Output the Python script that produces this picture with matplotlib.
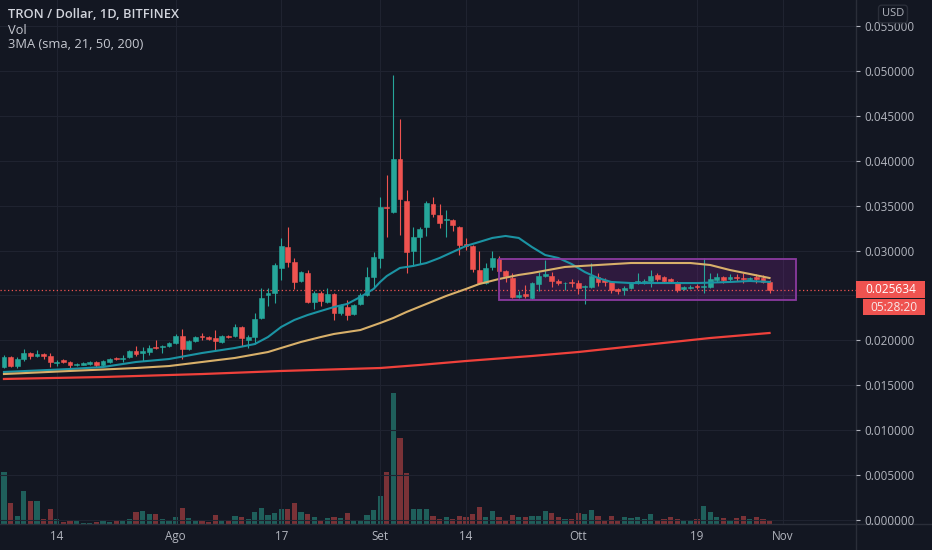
import numpy as np
import matplotlib
matplotlib.use('Agg')
import matplotlib.pyplot as plt
import matplotlib.transforms as mtransforms
from matplotlib.patches import Rectangle
from matplotlib.lines import Line2D

plt.rcParams['font.family'] = ['Open Sans', 'DejaVu Sans']

BG = '#131722'
GRID = '#1f2330'
TXT = '#b2b5be'
UP = '#26a69a'
DOWN = '#ef5350'
UP_VOL = '#1f5f5b'
DOWN_VOL = '#7a3237'

# daily candles TRX/USD, first candle = 2020-07-06
start_date = np.datetime64('2020-07-06')

opens = [0.01703, 0.01815, 0.01714, 0.01792, 0.01859, 0.01826, 0.01848, 0.01826, 0.01753, 0.01781,
         0.01759, 0.01726, 0.01731, 0.01737, 0.01759, 0.01726, 0.01759, 0.01804, 0.01792, 0.01815,
         0.01881, 0.01859, 0.01870, 0.01926, 0.01926, 0.01937, 0.01971, 0.02048, 0.01904, 0.01993,
         0.02048, 0.02037, 0.02026, 0.01982, 0.02048, 0.02048, 0.02149, 0.02004, 0.02037, 0.02249,
         0.02505, 0.02527, 0.02806, 0.03039, 0.02872, 0.02661, 0.02750, 0.02427, 0.02527, 0.02427,
         0.02516, 0.02305, 0.02371, 0.02293, 0.02405, 0.02505, 0.02705, 0.02917, 0.03485, 0.03429,
         0.04019, 0.03552, 0.02995, 0.03151, 0.03262, 0.03518, 0.03396, 0.03340, 0.03340, 0.03262,
         0.03073, 0.03051, 0.02783, 0.02638, 0.02817, 0.02906, 0.02772, 0.02694, 0.02483, 0.02516,
         0.02472, 0.02627, 0.02716, 0.02716, 0.02661, 0.02633, 0.02650, 0.02638, 0.02589, 0.02594,
         0.02705, 0.02672, 0.02650, 0.02572, 0.02561, 0.02583, 0.02638, 0.02650, 0.02661, 0.02728,
         0.02705, 0.02683, 0.02650, 0.02572, 0.02583, 0.02605, 0.02589, 0.02594, 0.02672, 0.02705,
         0.02683, 0.02705, 0.02694, 0.02683, 0.02705, 0.02694, 0.02650]

highs = [0.01837, 0.01826, 0.01815, 0.01904, 0.01870, 0.01893, 0.01859, 0.01859, 0.01781, 0.01792,
         0.01770, 0.01748, 0.01759, 0.01770, 0.01770, 0.01781, 0.01804, 0.01815, 0.01837, 0.01893,
         0.01937, 0.01926, 0.01948, 0.02004, 0.01948, 0.01982, 0.02071, 0.02126, 0.02004, 0.02048,
         0.02082, 0.02048, 0.02115, 0.02060, 0.02060, 0.02182, 0.02160, 0.02060, 0.02305, 0.02583,
         0.02583, 0.02861, 0.03140, 0.03262, 0.02917, 0.02772, 0.02783, 0.02549, 0.02549, 0.02583,
         0.02527, 0.02405, 0.02449, 0.02405, 0.02527, 0.02817, 0.02984, 0.03596, 0.03841, 0.04954,
         0.04464, 0.03674, 0.03262, 0.03262, 0.03552, 0.03596, 0.03518, 0.03451, 0.03351, 0.03273,
         0.03140, 0.03062, 0.02995, 0.02861, 0.02995, 0.02939, 0.02783, 0.02750, 0.02549, 0.02616,
         0.02650, 0.02761, 0.02895, 0.02761, 0.02683, 0.02650, 0.02683, 0.02672, 0.02616, 0.02861,
         0.02750, 0.02694, 0.02661, 0.02583, 0.02605, 0.02650, 0.02750, 0.02683, 0.02783, 0.02750,
         0.02716, 0.02694, 0.02661, 0.02605, 0.02616, 0.02627, 0.02917, 0.02750, 0.02750, 0.02716,
         0.02739, 0.02739, 0.02750, 0.02705, 0.02739, 0.02728, 0.02672]

lows = [0.01692, 0.01703, 0.01692, 0.01770, 0.01792, 0.01815, 0.01792, 0.01703, 0.01714, 0.01748,
        0.01692, 0.01714, 0.01726, 0.01726, 0.01703, 0.01714, 0.01748, 0.01781, 0.01759, 0.01804,
        0.01826, 0.01770, 0.01837, 0.01904, 0.01859, 0.01926, 0.01959, 0.01792, 0.01893, 0.01982,
        0.02004, 0.02004, 0.01893, 0.01971, 0.02026, 0.02037, 0.01937, 0.01915, 0.01959, 0.02238,
        0.02382, 0.02416, 0.02672, 0.02817, 0.02572, 0.02650, 0.02416, 0.02349, 0.02382, 0.02416,
        0.02227, 0.02282, 0.02227, 0.02282, 0.02394, 0.02494, 0.02583, 0.02806, 0.03151, 0.03418,
        0.03173, 0.02750, 0.02828, 0.02850, 0.03162, 0.03373, 0.03251, 0.03151, 0.03218, 0.02950,
        0.03006, 0.02761, 0.02627, 0.02627, 0.02783, 0.02761, 0.02650, 0.02472, 0.02472, 0.02472,
        0.02460, 0.02549, 0.02705, 0.02594, 0.02616, 0.02561, 0.02594, 0.02516, 0.02405, 0.02583,
        0.02605, 0.02605, 0.02527, 0.02516, 0.02505, 0.02572, 0.02627, 0.02627, 0.02594, 0.02661,
        0.02650, 0.02650, 0.02538, 0.02561, 0.02572, 0.02572, 0.02527, 0.02583, 0.02650, 0.02638,
        0.02661, 0.02661, 0.02638, 0.02672, 0.02638, 0.02638, 0.02527]

closes = [0.01815, 0.01714, 0.01792, 0.01859, 0.01826, 0.01848, 0.01826, 0.01759, 0.01759, 0.01759,
          0.01726, 0.01737, 0.01748, 0.01759, 0.01726, 0.01770, 0.01792, 0.01792, 0.01804, 0.01881,
          0.01848, 0.01881, 0.01915, 0.01915, 0.01937, 0.01971, 0.02048, 0.01904, 0.01993, 0.02037,
          0.02037, 0.02015, 0.01993, 0.02048, 0.02037, 0.02149, 0.02026, 0.02037, 0.02238, 0.02472,
          0.02527, 0.02839, 0.03051, 0.02872, 0.02650, 0.02761, 0.02427, 0.02527, 0.02438, 0.02516,
          0.02305, 0.02394, 0.02282, 0.02394, 0.02505, 0.02705, 0.02928, 0.03485, 0.03474, 0.04019,
          0.03574, 0.02984, 0.03151, 0.03240, 0.03529, 0.03407, 0.03307, 0.03351, 0.03284, 0.03062,
          0.03051, 0.02794, 0.02638, 0.02806, 0.02917, 0.02772, 0.02716, 0.02483, 0.02505, 0.02494,
          0.02638, 0.02716, 0.02739, 0.02661, 0.02638, 0.02644, 0.02633, 0.02583, 0.02600, 0.02716,
          0.02650, 0.02650, 0.02561, 0.02549, 0.02583, 0.02638, 0.02661, 0.02661, 0.02716, 0.02683,
          0.02661, 0.02661, 0.02561, 0.02594, 0.02594, 0.02589, 0.02605, 0.02683, 0.02705, 0.02672,
          0.02705, 0.02689, 0.02683, 0.02694, 0.02683, 0.02650, 0.025634]

volumes = [52, 21, 8, 33, 23, 23, 5, 15, 5, 2,
           3, 3, 1.5, 1.5, 2, 3, 2, 3, 3, 5,
           12, 13, 10, 10, 5, 4, 7, 16, 6, 3,
           3, 2, 9, 3, 3, 8, 7, 5, 12, 16,
           9, 11, 15, 15, 21, 12, 10, 7, 4, 6,
           7, 6, 11, 4, 4, 9, 14, 28, 52, 131,
           86, 51, 15, 15, 15, 8, 5, 7, 5, 8,
           7, 10, 17, 7, 13, 7, 3, 9, 7, 7,
           8, 8, 13, 11, 7, 5, 5, 11, 10, 14,
           8, 4, 8, 4, 7, 6, 7, 5, 10, 4,
           5, 7, 5, 3, 4, 5, 18, 12, 7, 6,
           3, 6, 8, 5, 7, 5, 4]

# moving averages (day index, value)
ma21_days = [0, 10, 15, 20, 25, 30, 35, 38, 40, 42, 44, 46, 48, 50, 52, 54, 56, 57, 58, 59, 60,
             62, 64, 66, 68, 70, 72, 74, 76, 78, 80, 82, 84, 86, 88, 90, 92, 95, 100, 105, 110, 113, 116]
ma21_vals = [0.01648, 0.01681, 0.01703, 0.01759, 0.01792, 0.01859, 0.01915, 0.01959, 0.02037, 0.02149,
             0.02227, 0.02282, 0.02327, 0.02371, 0.02405, 0.02483, 0.02572, 0.02650, 0.02716, 0.02761,
             0.02806, 0.02828, 0.02861, 0.02917, 0.02984, 0.03051, 0.03095, 0.03140, 0.03162, 0.03140,
             0.03039, 0.02950, 0.02917, 0.02850, 0.02761, 0.02694, 0.02650, 0.02638, 0.02638, 0.02638,
             0.02650, 0.02661, 0.02650]

ma50_days = [0, 10, 20, 25, 30, 35, 40, 42, 45, 48, 50, 54, 57, 59, 61, 64, 67, 70, 72, 75, 78, 80,
             85, 90, 95, 100, 104, 107, 110, 113, 116]
ma50_vals = [0.01625, 0.01659, 0.01692, 0.01714, 0.01759, 0.01804, 0.01870, 0.01915, 0.01982, 0.02037,
             0.02071, 0.02115, 0.02193, 0.02249, 0.02316, 0.02405, 0.02494, 0.02572, 0.02627, 0.02683,
             0.02728, 0.02750, 0.02817, 0.02839, 0.02861, 0.02861, 0.02861, 0.02839, 0.02783, 0.02739,
             0.02694]

ma200_days = [0, 15, 30, 42, 57, 63, 70, 80, 87, 97, 107, 116]
ma200_vals = [0.01570, 0.01592, 0.01625, 0.01659, 0.01692, 0.01726, 0.01770, 0.01826, 0.01870,
              0.01948, 0.02026, 0.02082]

tick_dates = ['2020-07-14', '2020-08-01', '2020-08-17', '2020-09-01',
              '2020-09-14', '2020-10-01', '2020-10-19', '2020-11-01']
tick_labels = ['14', 'Ago', '17', 'Set', '14', 'Ott', '19', 'Nov']

# drawn range box
box_dates = ['2020-09-19', '2020-11-03']
box_low, box_high = 0.02449, 0.02906

last_price = closes[-1]
countdown = '05:28:20'

o = np.array(opens)
h = np.array(highs)
l = np.array(lows)
c = np.array(closes)
x = np.arange(len(c))
up = c >= o
colors = np.where(up, UP, DOWN)
vcolors = np.where(up, UP_VOL, DOWN_VOL)

W, H = 932, 550
fig = plt.figure(figsize=(W / 100, H / 100), dpi=100, facecolor=BG)
ax = fig.add_axes([0, 26 / H, 856 / W, 524 / H])
vax = ax.twinx()
ax.set_zorder(2)
vax.set_zorder(1)
ax.patch.set_visible(False)
vax.patch.set_facecolor(BG)

# volume
vax.bar(x, volumes, width=0.8, color=vcolors, linewidth=0)
vax.set_ylim(0, max(volumes) * 4)
vax.set_yticks([])
vax.tick_params(right=False, labelright=False)

# candles
ax.vlines(x, l, h, colors=colors, linewidth=0.8, zorder=3)
ax.bar(x, np.abs(c - o), bottom=np.minimum(o, c), width=0.72, color=colors,
       edgecolor=colors, linewidth=0.4, zorder=4)

# moving averages
ax.plot(ma21_days, ma21_vals, color='#1b93a3', lw=1.5, zorder=5)
ax.plot(ma50_days, ma50_vals, color='#d8b06a', lw=1.5, zorder=5)
ax.plot(ma200_days, ma200_vals, color='#f0413b', lw=1.6, zorder=5)

# range box
b0 = (np.datetime64(box_dates[0]) - start_date).astype(int)
b1 = (np.datetime64(box_dates[1]) - start_date).astype(int)
ax.add_patch(Rectangle((b0, box_low), b1 - b0, box_high - box_low,
                       facecolor='#9c27b0', alpha=0.2, edgecolor='none', zorder=2))
ax.add_patch(Rectangle((b0, box_low), b1 - b0, box_high - box_low,
                       facecolor='none', edgecolor='#8a3a9f', lw=1.3, zorder=6))

# last price line
ax.axhline(last_price, color=DOWN, ls=(0, (1, 2)), lw=0.9, zorder=2)

ax.set_xlim(-0.6, 129.1)
ax.set_ylim(-0.000445, 0.05789)

tick_pos = [(np.datetime64(d) - start_date).astype(int) for d in tick_dates]
ax.set_xticks(tick_pos)
ax.set_xticklabels(tick_labels)
ax.set_yticks(np.arange(0, 0.0551, 0.005))
# the 0.025 label sits under the last-price tag
ax.yaxis.set_major_formatter(plt.FuncFormatter(
    lambda v, p: '' if abs(v - 0.025) < 1e-9 else '%.6f' % v))
ax.yaxis.tick_right()
ax.tick_params(axis='x', length=0, pad=4.5, labelsize=8.4, labelcolor=TXT)
ax.tick_params(axis='y', length=3, width=0.8, color=TXT, pad=3, labelsize=8.4, labelcolor=TXT)
ax.grid(True, color=GRID, lw=0.8)
ax.set_axisbelow(True)
for a in (ax, vax):
    for s in a.spines.values():
        s.set_visible(False)

# axis separators
fig.add_artist(Line2D([0, 1], [26 / H, 26 / H], color='#2a2e39', lw=1))
fig.add_artist(Line2D([856 / W, 856 / W], [0, 1], color='#2a2e39', lw=1))

# last price tag and countdown on the price scale
yp = ax.transData.transform((0, last_price))[1] / H
fig.add_artist(Rectangle((856 / W, yp - 8.3 / H), 69 / W, 16.6 / H, transform=fig.transFigure,
                         facecolor=DOWN, edgecolor='none', zorder=10))
fig.add_artist(Rectangle((863 / W, yp - 25.6 / H), 62 / W, 16.3 / H, transform=fig.transFigure,
                         facecolor=DOWN, edgecolor='none', zorder=10))
fig.text(891 / W, yp, '%.6f' % last_price, ha='center', va='center', fontsize=8.6,
         color='white', zorder=11)
fig.text(894 / W, yp - 17.4 / H, countdown, ha='center', va='center', fontsize=8.6,
         color='#f7e9e9', zorder=11)

fig.text(893 / W, 1 - 14 / H, 'USD', ha='center', va='center', fontsize=8, color=TXT,
         bbox=dict(boxstyle='round,pad=0.3', fc=BG, ec='#2a2e39'))

# legend texts
fig.text(8 / W, 1 - 15 / H, 'TRON / Dollar, 1D, BITFINEX', ha='left', va='center',
         fontsize=9.3, fontweight='semibold', color='#d1d4dc')
fig.text(8 / W, 1 - 30 / H, 'Vol', ha='left', va='center', fontsize=9.3, color='#c5c8d0')
fig.text(8 / W, 1 - 45 / H, '3MA (sma, 21, 50, 200)', ha='left', va='center',
         fontsize=9.3, color='#c5c8d0')

fig.savefig('out.png', dpi=100, facecolor=BG)
